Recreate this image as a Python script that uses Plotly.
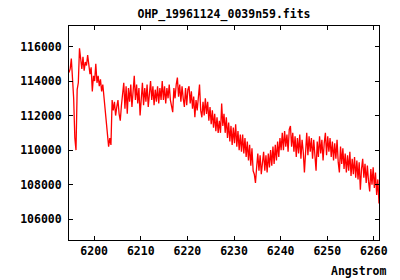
import plotly.graph_objects as go

# FITS-style linear wavelength solution
CRVAL1 = 6194.6   # Angstrom, first pixel
CDELT1 = 0.25     # Angstrom per pixel

flux = [
    114500, 114700, 115300, 114400, 113000, 110700, 110000, 113500, 113900, 115900,
    115200, 114700, 115400, 114600, 115100, 114900, 115500, 114700, 114400, 114800,
    113400, 114300, 114000, 115000, 113900, 114300, 113700, 114100, 113400, 113800,
    113000, 112400, 111300, 110600, 110200, 110700, 110300, 112900, 112300, 112800,
    112000, 112500, 112900, 112100,
    111700, 112600, 113500, 113900, 112400, 113700, 112100, 113600, 112800, 113800,
    112500, 113500, 114300, 112900, 113800, 112700, 113600, 112000, 113400, 113900,
    112600, 113600, 112800, 113800, 112500, 113500, 114000, 112900, 113700, 112600,
    113500, 112800, 113700, 112700, 113600, 112900, 114000, 112900, 113700, 112700,
    113600, 113000, 113800, 112900,
    112600, 112200, 113600, 113000, 113800, 114200, 113100, 113800, 112800, 113700,
    113000, 112500, 113600, 112600, 113500, 113700, 112700, 113400, 112400, 113100,
    111900, 112900, 112300, 113200, 113800, 112300, 111900, 112800, 112000, 113000,
    112100, 112800, 111700, 112500, 111500, 112300, 111300, 112100, 111100, 111900,
    111000, 111700, 111000, 112700,
    111400, 112100, 111000, 111900, 110700, 111600, 110500, 111400, 110300, 111300,
    110400, 111500, 110200, 111100, 110000, 110900, 109900, 110900, 109800, 110700,
    109600, 110500, 109400, 110300, 109100, 110100, 108800, 108600, 108100, 109000,
    109800, 108800, 109700, 108600, 109500, 109900, 108800, 109700, 108700, 109800,
    109000, 110000, 109100, 110200,
    109200, 110300, 109400, 110500, 109600, 110700, 110000, 111000, 110000, 111100,
    110200, 110900, 109900, 111200, 111400, 110200, 111000, 109900, 110800, 109600,
    110700, 109800, 110900, 109500, 110600, 109900, 108700, 110400, 111000, 109700,
    110800, 109900, 110700, 109500, 110600, 109700, 108800, 110500, 109600, 110800,
    109800, 110600, 109400, 110400,
    111000, 109700, 110800, 109900, 110700, 109600, 110500, 109400, 110400, 109500,
    110600, 109300, 108700, 110200, 109200, 110100, 108900, 109800, 108700, 109700,
    108800, 109900, 108500, 109500, 108600, 109600, 108400, 109400, 108300, 109300,
    107700, 108900, 109500, 108400, 109200, 108100, 109100, 108200, 107600, 108900,
    108000, 109000, 107800, 108700, 107400, 108300, 106900,
]
wavelength = [CRVAL1 + CDELT1 * i for i in range(len(flux))]

x_ticks = [6200, 6210, 6220, 6230, 6240, 6250, 6260]
y_ticks = [106000, 108000, 110000, 112000, 114000, 116000]

title_text = "OHP_19961124_0039n59.fits"
x_label = "Angstrom"

font = dict(family="DejaVu Sans Mono", size=11.5, color="black", weight="bold")

fig = go.Figure()
fig.add_trace(go.Scatter(x=wavelength, y=flux, mode="lines",
                         line=dict(color="#ff0000", width=1.3), showlegend=False))

axis_common = dict(showline=True, linecolor="black", linewidth=1, mirror="ticks",
                   ticks="inside", ticklen=4, tickcolor="black", tickwidth=1,
                   showgrid=False, zeroline=False, tickfont=font)

fig.update_layout(
    width=400, height=280, autosize=False,
    margin=dict(l=69, r=21, t=26, b=40),
    paper_bgcolor="white", plot_bgcolor="white",
    font=font,
    title=dict(text=title_text, x=0.5, xref="paper", y=1 - 14 / 280, yref="container",
               xanchor="center", yanchor="middle", font=font),
    xaxis=dict(range=[6194.6, 6261.1], tickvals=x_ticks,
               ticktext=[str(v) for v in x_ticks], **axis_common),
    yaxis=dict(range=[104790, 117190], tickvals=y_ticks,
               ticktext=[str(v) for v in y_ticks], ticklabelstandoff=4, **axis_common),
    annotations=[dict(text=x_label, xref="paper", yref="paper", x=(388 - 69) / 310,
                      y=(240 - 271) / 214, xanchor="right", yanchor="middle",
                      showarrow=False, font=font)],
)

fig.write_html("out.html")
